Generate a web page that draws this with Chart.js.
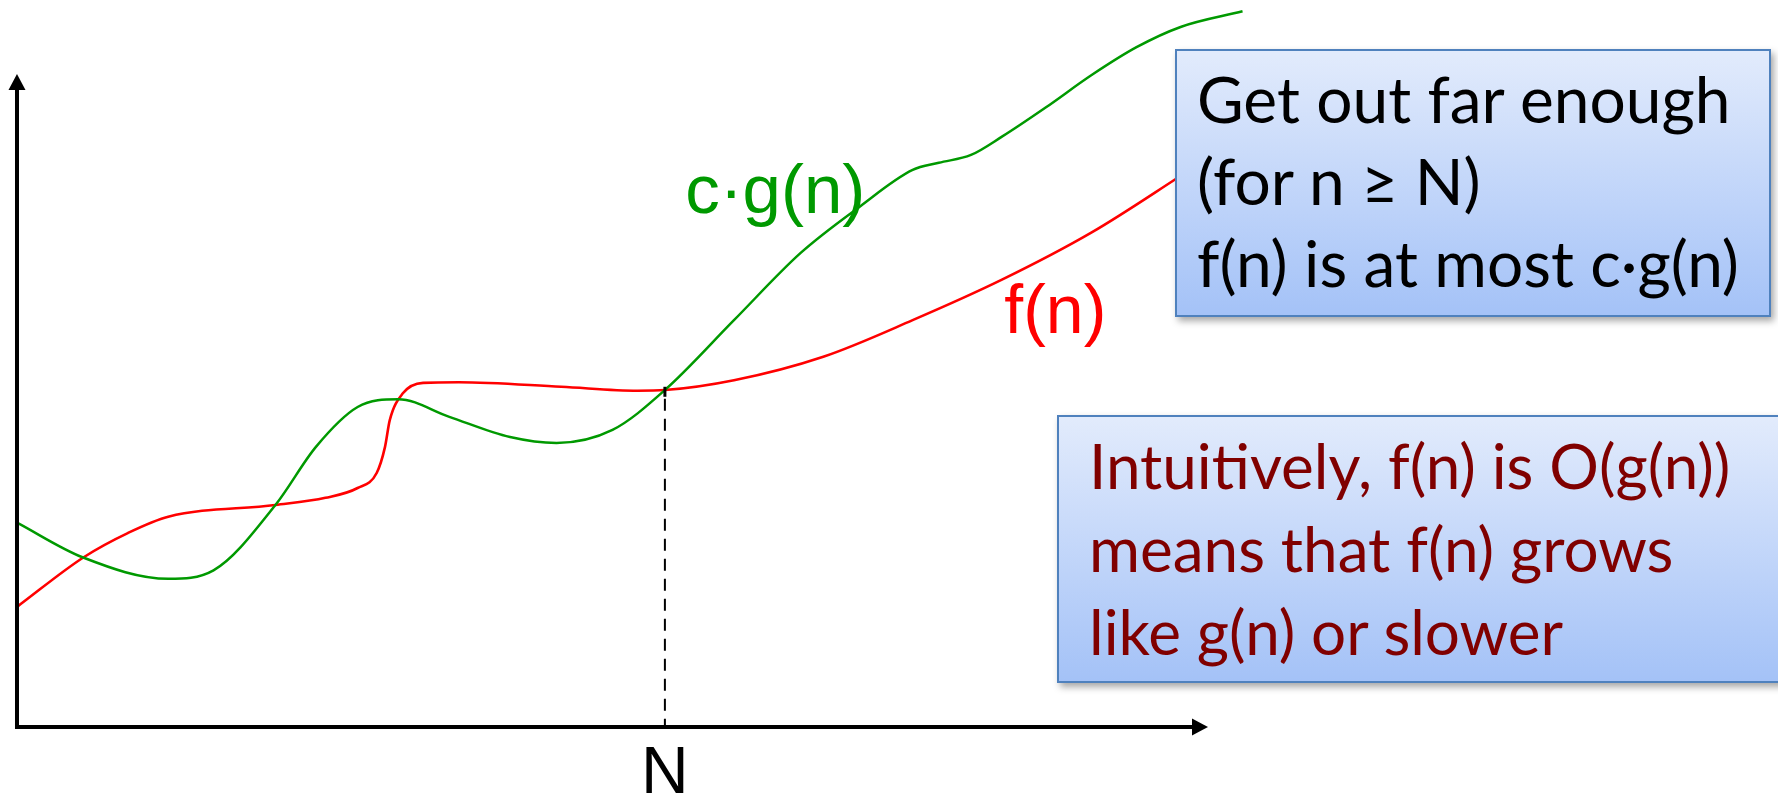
<!DOCTYPE html>
<html>
<head>
<meta charset="utf-8">
<script src="https://cdn.jsdelivr.net/npm/chart.js@4.4.1/dist/chart.umd.min.js"></script>
<style>
  body { margin: 0; background: #fff; overflow: hidden; }
  #wrap { position: relative; width: 1778px; height: 795px; }
  .box {
    position: absolute;
    box-sizing: border-box;
    border: 2px solid #4f81bd;
    background: linear-gradient(#e2ebfc, #a4c2f7);
    box-shadow: 3px 4px 7px rgba(0, 0, 0, 0.35);
    white-space: nowrap;
  }
  #box1 {
    left: 1175px; top: 49px; width: 596px; height: 268px;
    font-family: Lato, sans-serif; font-size: 64px; line-height: 82px;
    padding: 7px 0 0 20px; color: #000;
  }
  #box2 {
    left: 1057px; top: 415px; width: 760px; height: 268px;
    font-family: Lato, sans-serif; font-size: 62px; line-height: 83px;
    padding: 7px 0 0 30px; color: #800000;
  }
</style>
</head>
<body>
<div id="wrap">
  <canvas id="chart" width="1778" height="795"></canvas>
  <div class="box" id="box1">
    <div>Get out far enough</div>
    <div>(for n ≥ N)</div>
    <div>f(n) is at most c·g(n)</div>
  </div>
  <div class="box" id="box2">
    <div>Intuitively, f(n) is O(g(n))</div>
    <div>means that f(n) grows</div>
    <div>like g(n) or slower</div>
  </div>
</div>
<script>
// c·g(n)
const gN = [0, 5.5, 12.7, 16.5, 21.7, 25.1, 28.6, 32.0, 36.3, 41.4, 45.3, 50.0, 54.4, 60.2, 65.8, 70.7, 75.2, 77.4, 80.1, 82.7, 86.4, 90.2, 94.0, 97.7, 102.9];
const gValues = [31.3, 26.0, 22.7, 24.0, 34.0, 42.9, 49.0, 50.2, 47.5, 44.4, 43.5, 45.5, 51.6, 62.3, 72.6, 79.6, 85.3, 86.4, 87.6, 90.4, 94.9, 99.8, 104.1, 107.2, 109.6];

// f(n)
const fN = [0, 5.6, 9.3, 12.7, 21.7, 25.9, 28.6, 30.2, 30.9, 31.3, 32.4, 34.1, 37.1, 45.7, 52.1, 54.4, 60.2, 67.7, 75.2, 82.7, 90.2, 97.2, 103.5];
const fValues = [18.4, 26.0, 29.7, 32.2, 34.0, 35.1, 36.6, 38.9, 42.9, 47.0, 51.1, 52.7, 52.8, 52.1, 51.5, 51.6, 53.1, 56.7, 62.3, 68.5, 75.7, 83.8, 91.4];

// the N marker on the n axis
const tickValues = [54.4];
const tickLabels = ['N'];
const crossValue = 52.1;

const seriesNames = ['c·g(n)', 'f(n)'];

const toPoints = (xs, ys) => xs.map((v, i) => ({ x: v, y: ys[i] }));

const sketch = {
  id: 'sketch',
  afterDatasetsDraw(chart) {
    const { ctx, scales: { x, y } } = chart;
    const x0 = x.getPixelForValue(0), y0 = y.getPixelForValue(0);
    const xEnd = x.getPixelForValue(100), yEnd = y.getPixelForValue(100);
    const head = 16, half = 8.5;
    ctx.save();

    // dashed line up from N
    const xN = x.getPixelForValue(tickValues[0]);
    const yTop = y.getPixelForValue(crossValue);
    ctx.strokeStyle = '#000';
    ctx.lineWidth = 2;
    ctx.setLineDash([12, 8]);
    ctx.beginPath();
    ctx.moveTo(xN, yTop + 12);
    ctx.lineTo(xN, y0);
    ctx.stroke();
    ctx.setLineDash([]);
    ctx.lineWidth = 3;
    ctx.beginPath();
    ctx.moveTo(xN, yTop);
    ctx.lineTo(xN, yTop + 10);
    ctx.stroke();

    // axes with arrows
    ctx.lineWidth = 4;
    ctx.beginPath();
    ctx.moveTo(x0, y0 + 2);
    ctx.lineTo(x0, yEnd + head);
    ctx.moveTo(x0 - 2, y0);
    ctx.lineTo(xEnd - head, y0);
    ctx.stroke();
    ctx.fillStyle = '#000';
    ctx.beginPath();
    ctx.moveTo(x0, yEnd);
    ctx.lineTo(x0 - half, yEnd + head);
    ctx.lineTo(x0 + half, yEnd + head);
    ctx.closePath();
    ctx.fill();
    ctx.beginPath();
    ctx.moveTo(xEnd, y0);
    ctx.lineTo(xEnd - head, y0 - half);
    ctx.lineTo(xEnd - head, y0 + half);
    ctx.closePath();
    ctx.fill();

    // tick label
    ctx.font = '66px "Liberation Sans", Arial, sans-serif';
    ctx.textAlign = 'center';
    ctx.textBaseline = 'alphabetic';
    tickValues.forEach((v, i) => {
      ctx.fillText(tickLabels[i], x.getPixelForValue(v), y.getPixelForValue(-10.1));
    });

    // curve names
    ctx.textAlign = 'left';
    ctx.font = '69px "Liberation Sans", Arial, sans-serif';
    ctx.fillStyle = '#009900';
    ctx.fillText(seriesNames[0], x.getPixelForValue(56.1), y.getPixelForValue(78.7));
    ctx.font = '68px "Liberation Sans", Arial, sans-serif';
    ctx.fillStyle = '#ff0000';
    ctx.fillText(seriesNames[1], x.getPixelForValue(82.9), y.getPixelForValue(60.3));
    ctx.restore();
  }
};

new Chart(document.getElementById('chart'), {
  type: 'line',
  data: {
    datasets: [
      {
        label: seriesNames[0],
        data: toPoints(gN, gValues),
        borderColor: '#009900',
        borderWidth: 2.5,
        cubicInterpolationMode: 'monotone',
        pointRadius: 0,
        fill: false
      },
      {
        label: seriesNames[1],
        data: toPoints(fN, fValues),
        borderColor: '#ff0000',
        borderWidth: 2.6,
        cubicInterpolationMode: 'monotone',
        pointRadius: 0,
        fill: false
      }
    ]
  },
  options: {
    responsive: false,
    animation: false,
    layout: { padding: 0 },
    scales: {
      x: { type: 'linear', min: -1.427, max: 147.86, display: false },
      y: { type: 'linear', min: -10.41, max: 111.33, display: false }
    },
    plugins: {
      legend: { display: false },
      tooltip: { enabled: false }
    }
  },
  plugins: [sketch]
});
</script>
</body>
</html>
